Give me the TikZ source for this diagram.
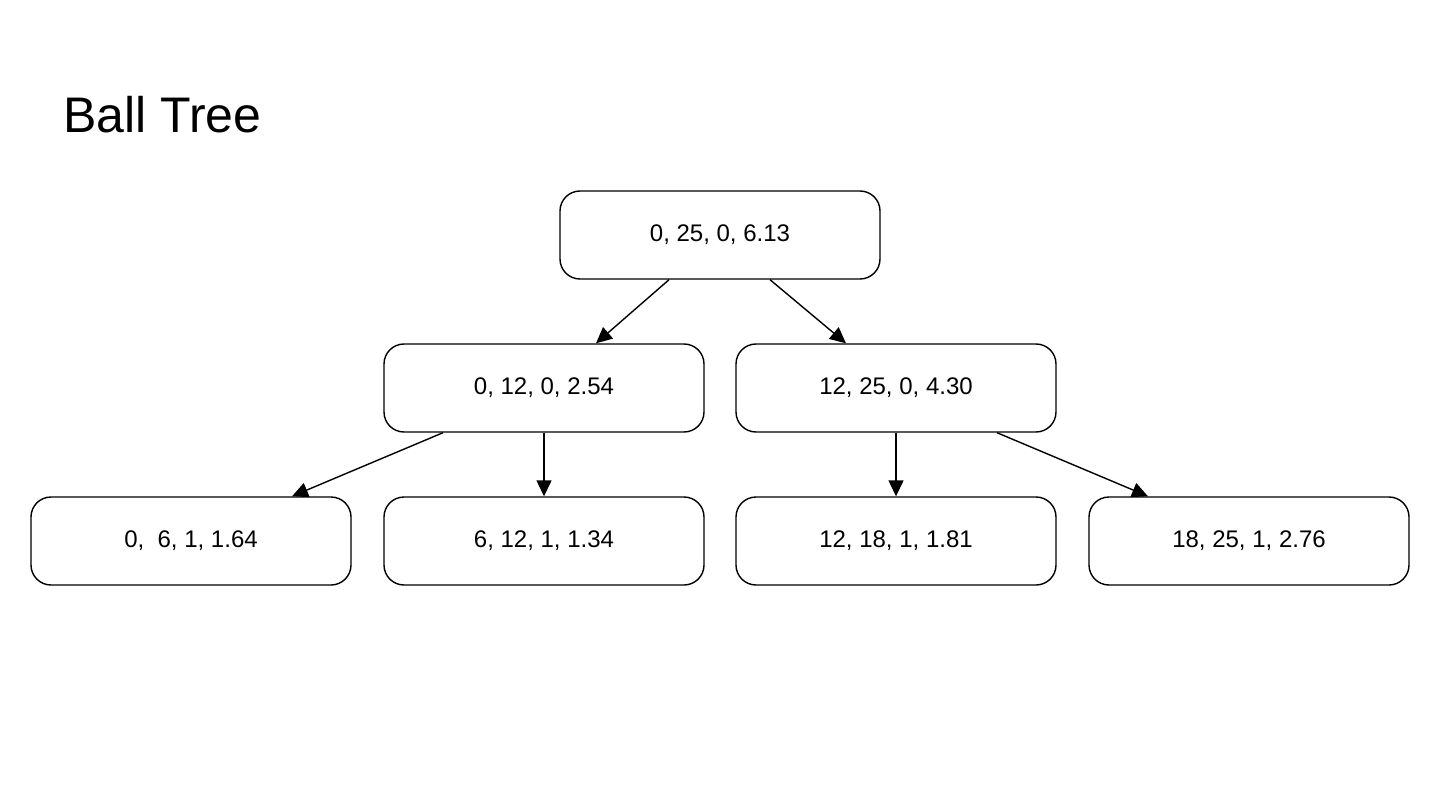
\documentclass[tikz,border=0pt]{standalone}
\usepackage{fontspec}
\setmainfont{Liberation Sans}
\usetikzlibrary{arrows.meta}
\tikzset{
  box/.style={draw=black, line width=1.4pt, rounded corners=20pt, minimum width=320pt, minimum height=88pt, inner sep=0pt, font=\fontsize{24}{28}\selectfont, fill=white},
  conn/.style={line width=1.4pt, -{Triangle[length=16pt,width=15pt]}},
}
\begin{document}
\begin{tikzpicture}[x=1pt,y=-1pt]
\useasboundingbox[fill=white] (0,0) rectangle (1440,810);
\node[anchor=base west, inner sep=0pt, font=\fontsize{50}{58}\selectfont] (title) at (63,133) {Ball Tree};
\node[box] (root) at (720,235) {0, 25, 0, 6.13};
\node[box] (m1) at (544,388) {0, 12, 0, 2.54};
\node[box] (m2) at (896,388) {12, 25, 0, 4.30};
\node[box] (b1) at (191,541) {0,\ \ 6, 1, 1.64};
\node[box] (b2) at (544,541) {6, 12, 1, 1.34};
\node[box] (b3) at (896,541) {12, 18, 1, 1.81};
\node[box] (b4) at (1249,541) {18, 25, 1, 2.76};
\draw[conn] ([xshift=-51pt]root.south) -- ([xshift=52pt]m1.north);
\draw[conn] ([xshift=50pt]root.south) -- ([xshift=-50pt]m2.north);
\draw[conn] ([xshift=-101pt]m1.south) -- ([xshift=101pt]b1.north);
\draw[conn] (m1.south) -- (b2.north);
\draw[conn] (m2.south) -- (b3.north);
\draw[conn] ([xshift=101pt]m2.south) -- ([xshift=-101pt]b4.north);
\end{tikzpicture}
\end{document}
